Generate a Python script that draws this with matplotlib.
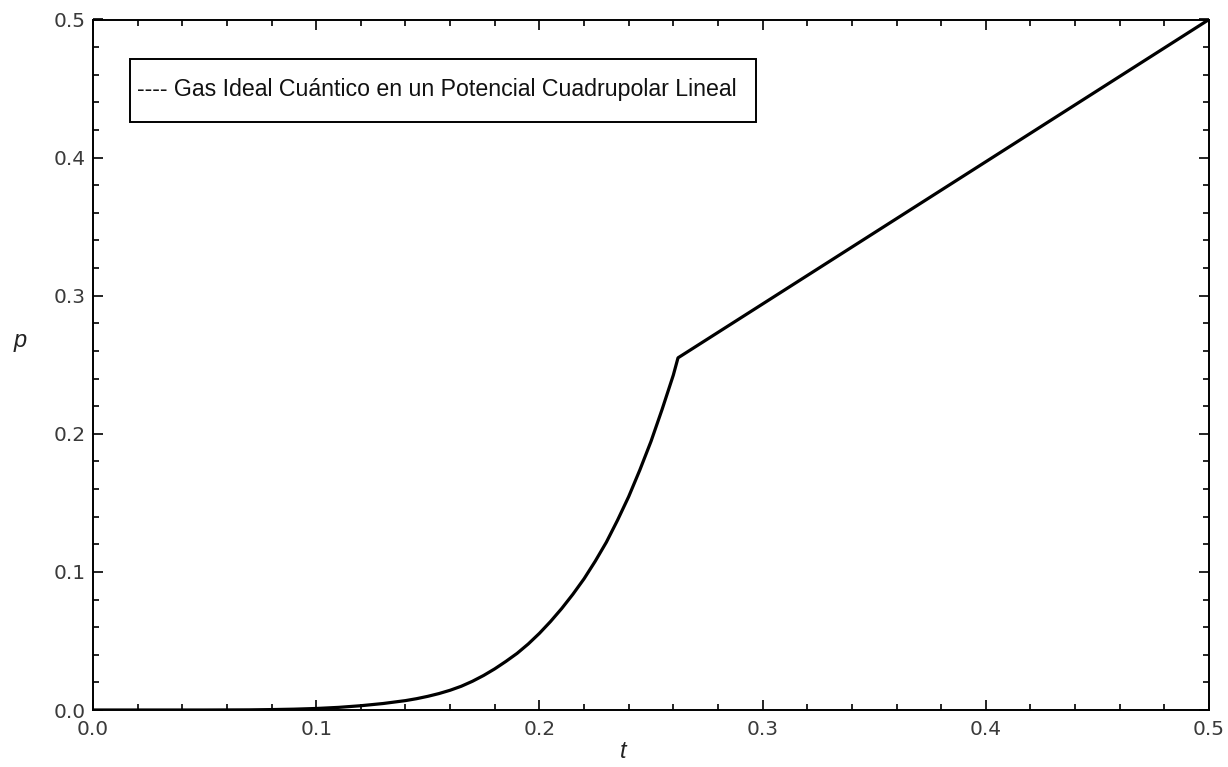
import numpy as np
import matplotlib
matplotlib.use("Agg")
import matplotlib.pyplot as plt
from matplotlib.patches import Rectangle
from matplotlib.ticker import MultipleLocator

# presion reducida p en funcion de la temperatura reducida t
t = [0.00, 0.05, 0.07, 0.08, 0.09, 0.10, 0.11, 0.12, 0.13, 0.14, 0.145,
     0.15, 0.155, 0.16, 0.165, 0.17, 0.175, 0.18, 0.185, 0.19, 0.195,
     0.20, 0.205, 0.21, 0.215, 0.22, 0.225, 0.23, 0.235, 0.24, 0.245,
     0.25, 0.255, 0.26, 0.2621, 0.30, 0.35, 0.40, 0.45, 0.50]
p = [0.0, 0.0, 0.0001, 0.0003, 0.0006, 0.0011, 0.0019, 0.0031, 0.0047,
     0.0068, 0.0082, 0.0099, 0.0119, 0.0143, 0.0172, 0.0208, 0.0250,
     0.0298, 0.0352, 0.0410, 0.0478, 0.0555, 0.0641, 0.0735, 0.0838,
     0.0950, 0.1077, 0.1215, 0.1374, 0.1545, 0.1738, 0.1945, 0.2178,
     0.2425, 0.2550, 0.2940, 0.3455, 0.3970, 0.4485, 0.5000]

etiqueta = "---- Gas Ideal Cuántico en un Potencial Cuadrupolar Lineal"

fig = plt.figure(figsize=(12.28, 7.67), dpi=100)
ax = fig.add_axes([93 / 1228, 1 - 710 / 767, 1116 / 1228, 690.5 / 767])

ax.plot(t, p, color="black", lw=2.3, solid_joinstyle="round")

ax.set_xlim(0, 0.5)
ax.set_ylim(0, 0.5)
ax.xaxis.set_major_locator(MultipleLocator(0.1))
ax.xaxis.set_minor_locator(MultipleLocator(0.02))
ax.yaxis.set_major_locator(MultipleLocator(0.1))
ax.yaxis.set_minor_locator(MultipleLocator(0.02))
ax.xaxis.set_major_formatter(lambda v, pos: f"{v:.1f}")
ax.yaxis.set_major_formatter(lambda v, pos: f"{v:.1f}")

ax.tick_params(which="both", direction="in", top=True, right=True,
               color="black", width=1.2)
ax.tick_params(which="major", length=7, labelsize=14.5, labelcolor="#3a3a3a")
ax.tick_params(which="minor", length=4)
ax.tick_params(axis="x", which="major", pad=7, labeltop=False)
ax.tick_params(axis="y", which="major", pad=5, labelright=False)
for s in ax.spines.values():
    s.set_linewidth(1.4)

# etiquetas de los ejes
fig.text(20 / 1228, 1 - 340 / 767, "p", fontsize=17, style="italic",
         family="Liberation Sans", color="#222222", ha="center", va="center")
fig.text(623 / 1228, 1 - 752 / 767, "t", fontsize=17, style="italic",
         family="Liberation Sans", color="#222222", ha="center", va="center")

# recuadro de la leyenda
ax.add_patch(Rectangle((37 / 1116, 588 / 690), 626 / 1116, 63 / 690,
                       transform=ax.transAxes, fill=False, ec="black",
                       lw=1.4, zorder=5))
ax.text(44 / 1116, 620 / 690, etiqueta, transform=ax.transAxes,
        fontsize=16.7, family="Liberation Sans", color="#111111",
        ha="left", va="center", zorder=6)

fig.savefig("out.png", dpi=100, facecolor="white")
